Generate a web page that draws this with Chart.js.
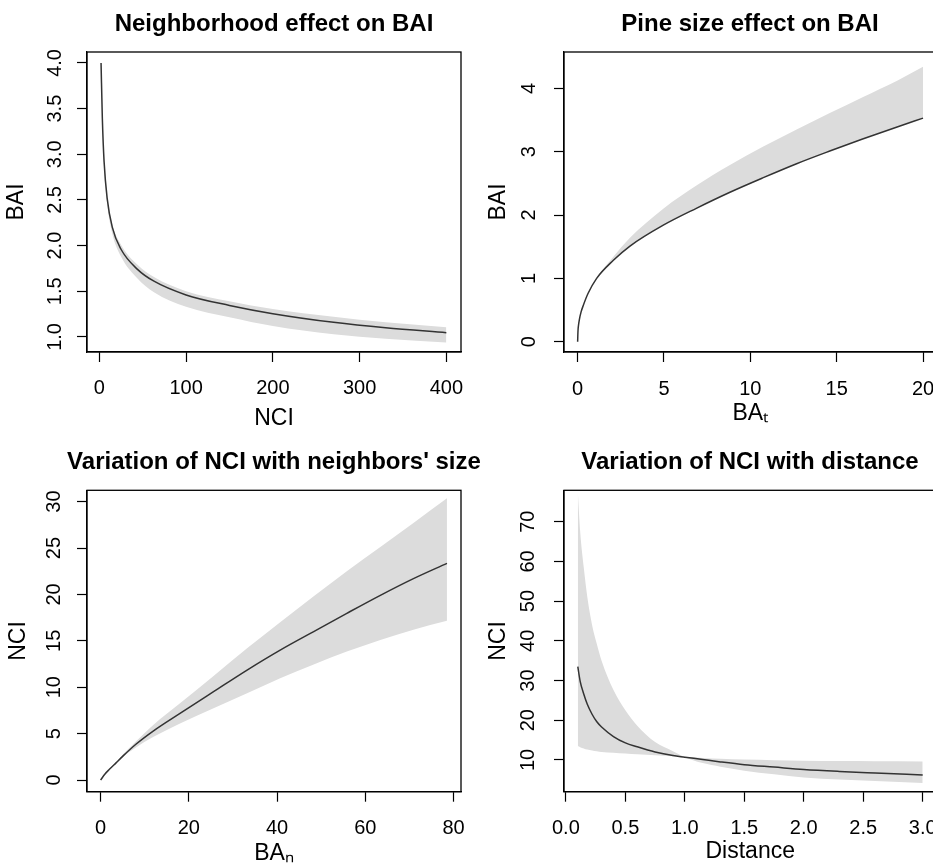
<!DOCTYPE html>
<html>
<head>
<meta charset="utf-8">
<title>Neighborhood and size effects on BAI</title>
<script src="https://cdn.jsdelivr.net/npm/chart.js@4.4.1/dist/chart.umd.min.js"></script>
<style>
  html, body { margin: 0; padding: 0; background: #fff; overflow: hidden; }
  body { width: 933px; height: 867px; position: relative; }
  canvas { position: absolute; }
</style>
</head>
<body>
<canvas id="nciEffect" width="548" height="432" style="left:0;top:0"></canvas>
<canvas id="sizeEffect" width="568" height="432" style="left:466px;top:0"></canvas>
<canvas id="neighborSize" width="548" height="437" style="left:0;top:430px"></canvas>
<canvas id="distanceEffect" width="568" height="437" style="left:466px;top:430px"></canvas>
<script>
// Panel 1: neighborhood effect on BAI (fit + band)
const nciValues = [2, 3.5, 5.5, 9, 15, 25, 44, 63, 100, 150, 200, 270, 330, 400];
const baiByNci = [4.00, 3.39, 2.92, 2.52, 2.20, 1.96, 1.74, 1.61, 1.46, 1.345, 1.255, 1.16, 1.10, 1.047];
const baiByNciUpper = [4.00, 3.40, 2.94, 2.54, 2.23, 2.01, 1.79, 1.655, 1.50, 1.39, 1.305, 1.22, 1.16, 1.106];
const baiByNciLower = [4.00, 3.37, 2.88, 2.46, 2.13, 1.88, 1.64, 1.49, 1.33, 1.215, 1.12, 1.03, 0.98, 0.938];
const nciXTicks = [0, 100, 200, 300, 400];
const nciYTicks = [1.0, 1.5, 2.0, 2.5, 3.0, 3.5, 4.0];

// Panel 2: pine size effect on BAI (band sits above the fit)
const baTValues = [0, 0.02, 0.05, 0.1, 0.2, 0.33, 0.6, 1.1, 2.07, 3.03, 4.96, 6.9, 8.82, 10.75, 12.68, 14.6, 16.5, 18.5, 20];
const baiByBaT = [0, 0.17, 0.26, 0.35, 0.47, 0.575, 0.76, 1.0, 1.285, 1.51, 1.84, 2.11, 2.36, 2.59, 2.81, 3.01, 3.20, 3.39, 3.53];
const baiByBaTUpper = [0, 0.17, 0.26, 0.35, 0.47, 0.575, 0.76, 1.0, 1.34, 1.64, 2.10, 2.47, 2.79, 3.08, 3.35, 3.61, 3.86, 4.12, 4.34];
const baTXTicks = [0, 5, 10, 15, 20];
const baTYTicks = [0, 1, 2, 3, 4];

// Panel 3: NCI vs neighbors' size
const baNValues = [0, 1, 2, 3.5, 5, 8, 12, 18, 25.6, 33.2, 40.7, 48.3, 55.8, 63.4, 70.9, 78.5];
const nciByBaN = [0, 0.65, 1.15, 1.85, 2.55, 3.85, 5.3, 7.18, 9.52, 11.85, 14.0, 16.0, 17.96, 19.9, 21.7, 23.35];
const nciByBaNUpper = [0, 0.65, 1.15, 1.9, 2.72, 4.15, 5.95, 8.26, 11.2, 14.2, 17.0, 19.8, 22.5, 25.1, 27.7, 30.35];
const nciByBaNLower = [0, 0.65, 1.12, 1.78, 2.45, 3.5, 4.65, 6.1, 7.72, 9.34, 10.96, 12.45, 13.85, 15.1, 16.2, 17.15];
const baNXTicks = [0, 20, 40, 60, 80];
const baNYTicks = [0, 5, 10, 15, 20, 25, 30];

// Panel 4: NCI vs distance (the two band edges cross near 1.0)
const distValues = [0.1, 0.12, 0.15, 0.18, 0.22, 0.26, 0.3, 0.4, 0.5, 0.6, 0.75, 0.9, 1.0, 1.15, 1.3, 1.5, 1.75, 2.0, 2.3, 2.6, 3.0];
const nciByDist = [33.5, 29.8, 26.6, 24.0, 21.5, 19.6, 18.3, 15.9, 14.3, 13.3, 12.0, 11.1, 10.7, 10.1, 9.5, 8.8, 8.2, 7.6, 7.1, 6.7, 6.2];
const nciByDistSteep = [77.5, 67.5, 58.5, 51.0, 44.0, 39.2, 35.0, 27.6, 22.5, 18.6, 14.5, 12.2, 10.7, 9.2, 8.3, 7.3, 6.4, 5.6, 5.1, 4.7, 4.2];
const nciByDistFlat = [13.5, 13.2, 12.9, 12.6, 12.4, 12.2, 12.0, 11.8, 11.6, 11.4, 11.2, 10.9, 10.8, 10.5, 10.3, 10.1, 9.95, 9.8, 9.7, 9.65, 9.6];
const distXTicks = [0, 0.5, 1.0, 1.5, 2.0, 2.5, 3.0];
const distYTicks = [10, 20, 30, 40, 50, 60, 70];

const FONT = "'Liberation Sans', Arial, Helvetica, sans-serif";
const INK = '#000';
const BAND = '#dcdcdc';

// R-style box around the plot region
const boxFrame = {
  id: 'boxFrame',
  afterDatasetsDraw(chart) {
    const { ctx, chartArea: a } = chart;
    ctx.save();
    ctx.strokeStyle = INK;
    ctx.lineWidth = 1.3;
    ctx.strokeRect(a.left, a.top, a.right - a.left, a.bottom - a.top);
    ctx.restore();
  }
};

function pairs(xs, ys) {
  return xs.map((x, i) => ({ x, y: ys[i] }));
}

function axisStyle() {
  return {
    grid: { drawOnChartArea: false, drawTicks: true, tickLength: 10, tickColor: INK, tickWidth: 1.2 },
    border: { display: true, color: INK, width: 1.2 }
  };
}

function makePanel(id, cfg) {
  const datasets = [
    { data: pairs(cfg.x, cfg.mid), borderColor: '#333', borderWidth: 1.5, pointRadius: 0, fill: false },
    { data: pairs(cfg.x, cfg.upper), borderColor: 'rgba(0,0,0,0)', borderWidth: 0, pointRadius: 0,
      backgroundColor: BAND, fill: cfg.lower ? 2 : 0 }
  ];
  if (cfg.lower) {
    datasets.push({ data: pairs(cfg.x, cfg.lower), borderColor: 'rgba(0,0,0,0)', borderWidth: 0, pointRadius: 0, fill: false });
  }

  return new Chart(document.getElementById(id), {
    type: 'line',
    data: { datasets },
    options: {
      responsive: false,
      animation: false,
      devicePixelRatio: 1,
      layout: { padding: 0 },
      elements: { line: { cubicInterpolationMode: 'monotone' } },
      plugins: {
        legend: { display: false },
        tooltip: { enabled: false },
        title: {
          display: true,
          text: cfg.title,
          color: INK,
          font: { family: FONT, size: 24, weight: 'bold' },
          padding: { top: cfg.titleTop, bottom: cfg.titleBottom }
        }
      },
      scales: {
        x: {
          type: 'linear',
          min: cfg.xMin,
          max: cfg.xMax,
          afterBuildTicks: s => { s.ticks = cfg.xTicks.map(v => ({ value: v })); },
          afterFit: s => { s.height = cfg.xAxisHeight; },
          ...axisStyle(),
          ticks: {
            color: INK, font: { family: FONT, size: 20 }, padding: cfg.xTickPad,
            maxRotation: 0, autoSkip: false, callback: v => v.toFixed(cfg.xDigits)
          },
          title: {
            display: true, text: cfg.xTitle, color: INK,
            font: { family: FONT, size: 23 }, padding: { top: 0, bottom: cfg.xTitlePad }
          }
        },
        y: {
          type: 'linear',
          min: cfg.yMin,
          max: cfg.yMax,
          afterBuildTicks: s => { s.ticks = cfg.yTicks.map(v => ({ value: v })); },
          afterFit: s => { s.width = cfg.yAxisWidth; },
          ...axisStyle(),
          ticks: {
            color: INK, font: { family: FONT, size: 20 }, padding: cfg.yTickPad,
            minRotation: 90, maxRotation: 90, crossAlign: 'center', autoSkip: false,
            callback: v => v.toFixed(cfg.yDigits)
          },
          title: {
            display: true, text: cfg.yTitle, color: INK,
            font: { family: FONT, size: 23 }, padding: { top: cfg.yTitlePad, bottom: 0 }
          }
        },
        // empty right-hand box: keeps the plot narrow while the title stays centred on the canvas
        spacer: {
          type: 'linear',
          position: 'right',
          afterFit: s => { s.width = cfg.padRight; },
          ticks: { display: false },
          grid: { display: false },
          border: { display: false }
        }
      }
    },
    plugins: [boxFrame]
  });
}

makePanel('nciEffect', {
  title: 'Neighborhood effect on BAI', xTitle: 'NCI', yTitle: 'BAI',
  x: nciValues, mid: baiByNci, upper: baiByNciUpper, lower: baiByNciLower,
  xTicks: nciXTicks, yTicks: nciYTicks, xDigits: 0, yDigits: 1,
  xMin: -14.2, xMax: 416.9, yMin: 0.835, yMax: 4.12,
  padRight: 87, yAxisWidth: 87, xAxisHeight: 80,
  titleTop: 9.6, titleBottom: 13.6, xTickPad: 14, yTickPad: 7.9, xTitlePad: 0, yTitlePad: 3
});

makePanel('sizeEffect', {
  title: 'Pine size effect on BAI', xTitle: 'BA\u209C', yTitle: 'BAI',
  x: baTValues, mid: baiByBaT, upper: baiByBaTUpper, lower: null,
  xTicks: baTXTicks, yTicks: baTYTicks, xDigits: 0, yDigits: 0,
  xMin: -0.79, xMax: 20.78, yMin: -0.163, yMax: 4.574,
  padRight: 97.5, yAxisWidth: 98, xAxisHeight: 80,
  titleTop: 9.6, titleBottom: 13.6, xTickPad: 15, yTickPad: 19, xTitlePad: 5, yTitlePad: 18.6
});

makePanel('neighborSize', {
  title: "Variation of NCI with neighbors' size", xTitle: 'BA\u2099', yTitle: 'NCI',
  x: baNValues, mid: nciByBaN, upper: nciByBaNUpper, lower: nciByBaNLower,
  xTicks: baNXTicks, yTicks: baNYTicks, xDigits: 0, yDigits: 0,
  xMin: -3.08, xMax: 81.68, yMin: -1.26, yMax: 31.22,
  padRight: 87, yAxisWidth: 87, xAxisHeight: 75.3,
  titleTop: 18, titleBottom: 13.5, xTickPad: 15, yTickPad: 10.9, xTitlePad: 0, yTitlePad: 4.5
});

makePanel('distanceEffect', {
  title: 'Variation of NCI with distance', xTitle: 'Distance', yTitle: 'NCI',
  x: distValues, mid: nciByDist, upper: nciByDistSteep, lower: nciByDistFlat,
  xTicks: distXTicks, yTicks: distYTicks, xDigits: 1, yDigits: 0,
  xMin: -0.016, xMax: 3.116, yMin: 2.0, yMax: 77.9,
  padRight: 97.5, yAxisWidth: 98, xAxisHeight: 75.3,
  titleTop: 18, titleBottom: 13.5, xTickPad: 15, yTickPad: 14.5, xTitlePad: 1.5, yTitlePad: 18.6
});
</script>
</body>
</html>
